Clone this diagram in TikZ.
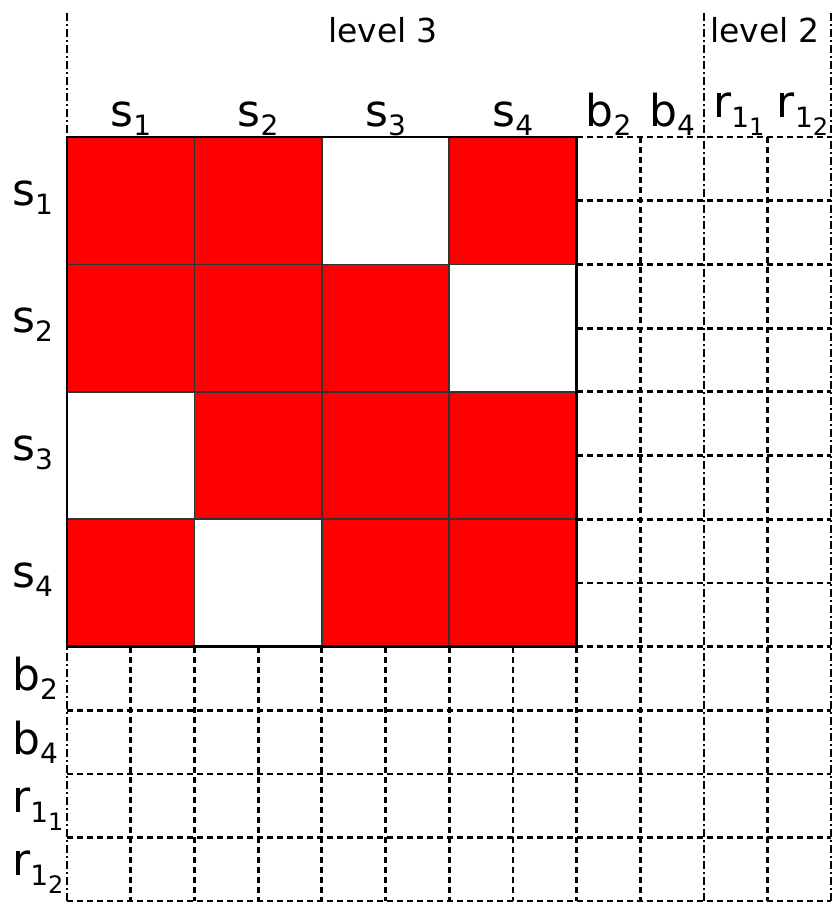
\documentclass[tikz,border=0pt]{standalone}
\usepackage{fontspec}
\setmainfont{DejaVu Sans}
\newcommand{\mainsz}{\fontsize{44}{44}\selectfont}
\newcommand{\subsz}{\fontsize{28}{28}\selectfont}
\newcommand{\subsubsz}{\fontsize{24}{24}\selectfont}
\newcommand{\lb}[2]{\mainsz #1\raisebox{-9pt}{\subsz #2}}
\newcommand{\lbb}[3]{\mainsz #1\raisebox{-10pt}{\subsz #2\raisebox{-8pt}{\subsubsz #3}}}
\begin{document}
\begin{tikzpicture}[x=1pt,y=-1pt,
  gridln/.style={line width=2.8pt, dash pattern=on 6pt off 4pt},
  ddln/.style={line width=2.2pt, dash pattern=on 8pt off 3pt on 2pt off 3pt},
  cellbox/.style={draw=black!80, line width=1.8pt},
  lab/.style={inner sep=0pt},
  lvl/.style={inner sep=0pt, font=\fontsize{33}{33}\selectfont}]
\useasboundingbox (0,0) rectangle (832,902);
\def\u{63.7}
% dashed grid: right region
\foreach \i in {9,11} \draw[gridln] ({67+\i*\u},137) -- ({67+\i*\u},901);
\draw[gridln] ({67+8*\u},{137+8*\u}) -- ({67+8*\u},901);
\foreach \i in {0,...,8} \draw[gridln] ({67+8*\u},{137+\i*\u}) -- (831,{137+\i*\u});
% dashed grid: bottom region
\foreach \i in {1,...,7} \draw[gridln] ({67+\i*\u},{137+8*\u}) -- ({67+\i*\u},901);
\foreach \i in {9,...,12} \draw[gridln] (67,{137+\i*\u}) -- (831,{137+\i*\u});
% dash-dot level separators
\foreach \x in {67,{67+10*\u},831} \draw[ddln] (\x,13) -- (\x,902);
% matrix block: fills
\fill[white] (67,137) rectangle ({67+8*\u},{137+8*\u});
\foreach \r/\c in {1/1,1/2,1/4,2/1,2/2,2/3,3/2,3/3,3/4,4/1,4/3,4/4}
  \fill[red] ({67+(\c-1)*2*\u},{137+(\r-1)*2*\u}) rectangle ++({2*\u},{2*\u});
% matrix block: cell borders
\foreach \r in {1,...,4}
  \foreach \c in {1,...,4}
    \draw[cellbox] ({67+(\c-1)*2*\u},{137+(\r-1)*2*\u}) rectangle ++({2*\u},{2*\u});
\draw[line width=2.4pt] (67,137) rectangle ({67+8*\u},{137+8*\u});
% level labels
\node[lvl, anchor=base] (lv3) at (383,42) {level 3};
\node[lvl, anchor=base] (lv2) at (765,42) {level 2};
% column labels
\foreach \k/\t in {1/1,2/2,3/3,4/4}
  \node[lab, anchor=south] (cs\k) at ({67+(2*\k-1)*\u},136) {\lb{s}{\t}};
\node[lab, anchor=south] (cb2) at ({67+8.5*\u},136) {\lb{b}{2}};
\node[lab, anchor=south] (cb4) at ({67+9.5*\u},136) {\lb{b}{4}};
\node[lab, anchor=south] (cr1) at ({70+10.5*\u},136) {\lbb{r}{1}{1}};
\node[lab, anchor=south] (cr2) at ({70+11.5*\u},136) {\lbb{r}{1}{2}};
% row labels
\foreach \k/\t in {1/1,2/2,3/3,4/4}
  \node[lab, anchor=west] (rs\k) at (12,{137+(2*\k-1)*\u-3}) {\lb{s}{\t}};
\node[lab, anchor=west] (rb2) at (12,{137+8.5*\u}) {\lb{b}{2}};
\node[lab, anchor=west] (rb4) at (12,{137+9.5*\u}) {\lb{b}{4}};
\node[lab, anchor=west] (rr1) at (12,{137+10.5*\u+3}) {\lbb{r}{1}{1}};
\node[lab, anchor=west] (rr2) at (12,{137+11.5*\u+3}) {\lbb{r}{1}{2}};
\end{tikzpicture}
\end{document}
